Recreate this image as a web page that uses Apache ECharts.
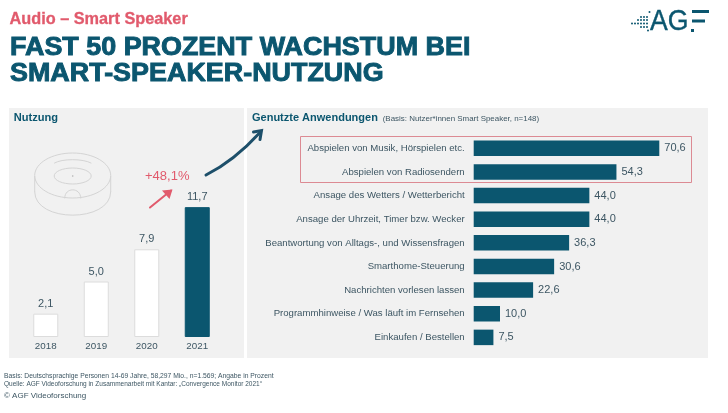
<!DOCTYPE html>
<html>
<head>
<meta charset="utf-8">
<title>Smart-Speaker-Nutzung</title>
<style>
html, body { margin: 0; padding: 0; background: #fff; }
#myChart { width: 728px; height: 413px; }
</style>
<script src="https://cdn.jsdelivr.net/npm/echarts@6/dist/echarts.min.js"></script>
</head>
<body>
<div id="myChart"></div>
<script>
var years = ['2018', '2019', '2020', '2021'];
var usage = [2.1, 5.0, 7.9, 11.7];
var highlightYear = '2021';

var apps = [
    'Abspielen von Musik, Hörspielen etc.',
    'Abspielen von Radiosendern',
    'Ansage des Wetters / Wetterbericht',
    'Ansage der Uhrzeit, Timer bzw. Wecker',
    'Beantwortung von Alltags-, und Wissensfragen',
    'Smarthome-Steuerung',
    'Nachrichten vorlesen lassen',
    'Programmhinweise / Was läuft im Fernsehen',
    'Einkaufen / Bestellen'
];
var appValues = [70.6, 54.3, 44.0, 44.0, 36.3, 30.6, 22.6, 10.0, 7.5];

var FONT = '"Liberation Sans", Arial, sans-serif';
var DARK = '#0b566f';
var RED = '#e15a6c';
var GREY = '#f1f1f1';
var LINE = '#d4d4d4';
var TEXT = '#3d5663';

function comma(v) {
    return v.toFixed(1).replace('.', ',');
}

function label(x, y, text, size, color, bold, extra) {
    var style = {x: x, y: y, text: text, fontFamily: FONT, fontSize: size, fill: color, fontWeight: bold ? 'bold' : 'normal', verticalAlign: 'middle'};
    for (var k in extra) style[k] = extra[k];
    return {type: 'text', z: 5, style: style};
}

// Text in der Breite gestreckt (Headline und Logo sind breiter als Liberation Sans)
function wideLabel(x, y, text, size, color, bold, sx, extra) {
    var el = label(0, 0, text, size, color, bold, extra);
    el.x = x;
    el.y = y;
    el.scaleX = sx;
    return el;
}

function panel(x, w) {
    return {type: 'rect', z: 0, shape: {x: x, y: 108, width: w, height: 250}, style: {fill: GREY}};
}

function curve(x1, y1, cx1, cy1, cx2, cy2, x2, y2, color, width) {
    return {type: 'bezierCurve', z: 6, shape: {x1: x1, y1: y1, cpx1: cx1, cpy1: cy1, cpx2: cx2, cpy2: cy2, x2: x2, y2: y2},
        style: {fill: null, stroke: color, lineWidth: width, lineCap: 'round'}};
}

function ellipse(cx, cy, rx, ry) {
    return {type: 'ellipse', z: 5, shape: {cx: cx, cy: cy, rx: rx, ry: ry}, style: {fill: null, stroke: LINE, lineWidth: 1}};
}

function dot(x, y, r) {
    return {type: 'circle', z: 5, shape: {cx: x, cy: y, r: r}, style: {fill: DARK}};
}

var logoDots = [[632,23.5],[635,23.5],[638,23.5],[641,23.5],[644,23.5],[647,23.5],[638,20],[641,20],[644,20],[647,20],[641,17],[644,17],[647,17],[641,27],[644,27],[647,27],[648,30.5],[649.5,12]];

var graphics = [
    panel(9, 235),
    panel(247, 461),
    label(9.5, 20, 'Audio – Smart Speaker', 16.3, RED, true, {stroke: RED, lineWidth: 0.3}),
    wideLabel(10, 48, 'FAST 50 PROZENT WACHSTUM BEI', 25.5, DARK, true, 1.055, {stroke: DARK, lineWidth: 0.9}),
    wideLabel(10, 74, 'SMART-SPEAKER-NUTZUNG', 25.5, DARK, true, 1.055, {stroke: DARK, lineWidth: 0.9}),
    label(13.7, 118, 'Nutzung', 11.1, DARK, true),
    label(252, 118, 'Genutzte Anwendungen', 11, DARK, true),
    label(382.7, 119.3, '(Basis: Nutzer*innen Smart Speaker, n=148)', 7.95, TEXT, false),
    label(145, 176.5, '+48,1%', 13, RED, false),
    label(4, 376, 'Basis: Deutschsprachige Personen 14-69 Jahre, 58,297 Mio., n=1.569; Angabe in Prozent', 6.75, TEXT, false),
    label(4, 384, 'Quelle: AGF Videoforschung in Zusammenarbeit mit Kantar: „Convergence Monitor 2021“', 6.5, TEXT, false),
    label(4, 396, '© AGF Videoforschung', 8, TEXT, false),

    // Logo
    wideLabel(650, 22, 'AG', 29, DARK, false, 0.92, {stroke: DARK, lineWidth: 0.4}),
    {type: 'rect', z: 5, shape: {x: 692, y: 10, width: 17, height: 3}, style: {fill: DARK}},
    {type: 'rect', z: 5, shape: {x: 692, y: 19.5, width: 13, height: 3}, style: {fill: DARK}},
    {type: 'rect', z: 5, shape: {x: 691, y: 29, width: 3, height: 3}, style: {fill: DARK}},

    // Lautsprecher-Icon
    ellipse(72.7, 175.5, 38, 22.5),
    ellipse(72.7, 176, 18.5, 8),
    curve(54.5, 163, 62, 158.5, 83, 158.5, 91, 163, LINE, 1),
    {type: 'line', z: 5, shape: {x1: 34.7, y1: 176, x2: 34.7, y2: 192}, style: {stroke: LINE, lineWidth: 1}},
    {type: 'line', z: 5, shape: {x1: 110.7, y1: 176, x2: 110.7, y2: 192}, style: {stroke: LINE, lineWidth: 1}},
    curve(34.7, 192, 34.7, 223, 110.7, 223, 110.7, 192, LINE, 1),
    curve(64.7, 198, 64.7, 187, 80.7, 187, 80.7, 198, LINE, 1),
    {type: 'circle', z: 5, shape: {cx: 72.7, cy: 176, r: 0.8}, style: {fill: '#b0b0b0'}},

    // Pfeile
    {type: 'line', z: 6, shape: {x1: 150, y1: 207.5, x2: 171, y2: 190.5}, style: {stroke: RED, lineWidth: 2, lineCap: 'round'}},
    {type: 'polygon', z: 6, shape: {points: [[162, 190.5], [172.5, 189.5], [169.5, 199]]}, style: {fill: RED}},
    curve(206, 175, 226, 165, 244, 150, 260, 132.5, '#1d4f6a', 3),
    {type: 'polyline', z: 6, shape: {points: [[253.5, 132], [261.5, 130.5], [260, 139.5]]}, style: {fill: null, stroke: '#1d4f6a', lineWidth: 3, lineCap: 'round'}},

    // Markierung der beiden Audio-Anwendungen
    {type: 'rect', z: 6, shape: {x: 300.5, y: 136.5, width: 391, height: 46}, style: {fill: null, stroke: '#dc8a93', lineWidth: 1}}
];
for (var i = 0; i < logoDots.length; i++) {
    graphics.push(dot(logoDots[i][0], logoDots[i][1], 1));
}

var myChart = echarts.init(document.getElementById('myChart'));
window.onresize = myChart.resize;

myChart.setOption({
    backgroundColor: '#fff',
    animation: false,
    textStyle: {fontFamily: FONT},
    graphic: {elements: graphics},
    grid: [
        {left: 20.5, top: 181.6, width: 202, height: 155.4},
        {left: 473.7, top: 136.5, width: 210.3, height: 212.7}
    ],
    xAxis: [
        {
            gridIndex: 0, type: 'category', data: years,
            axisLine: {show: false}, axisTick: {show: false},
            axisLabel: {color: TEXT, fontSize: 9.8, fontFamily: FONT, margin: 4}
        },
        {gridIndex: 1, type: 'value', min: 0, max: 80, show: false}
    ],
    yAxis: [
        {gridIndex: 0, type: 'value', min: 0, max: 14, show: false},
        {
            gridIndex: 1, type: 'category', data: apps, inverse: true,
            axisLine: {show: false}, axisTick: {show: false},
            axisLabel: {color: TEXT, fontSize: 9.6, fontFamily: FONT, margin: 9}
        }
    ],
    series: [
        {
            type: 'bar', xAxisIndex: 0, yAxisIndex: 0, barWidth: 25,
            data: usage.map(function (v, i) {
                var on = years[i] === highlightYear;
                return {value: v, itemStyle: {color: on ? DARK : '#fff', borderColor: on ? DARK : '#dcdcdc', borderWidth: 1}};
            }),
            label: {show: true, position: 'top', distance: 4.5, color: TEXT, fontSize: 11, fontFamily: FONT, formatter: function (p) { return comma(p.value); }}
        },
        {
            type: 'bar', xAxisIndex: 1, yAxisIndex: 1, barWidth: 15.5,
            data: appValues,
            itemStyle: {color: DARK},
            label: {show: true, position: 'right', distance: 5, color: TEXT, fontSize: 11, fontFamily: FONT, formatter: function (p) { return comma(p.value); }}
        }
    ]
});
</script>
</body>
</html>
